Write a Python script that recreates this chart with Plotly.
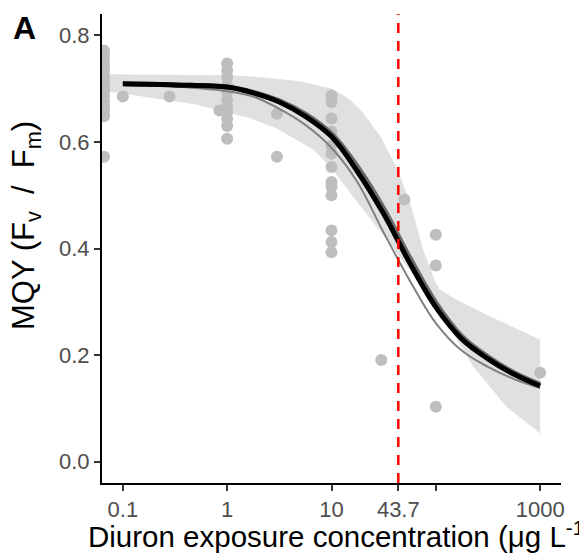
import plotly.graph_objects as go

# ---------------- data ----------------
ctrl_x = 0.066
ctrl_y = [0.771, 0.762, 0.752, 0.743, 0.733, 0.722, 0.712, 0.703, 0.695,
          0.686, 0.676, 0.667, 0.657, 0.648, 0.572]

obs_x = [0.1, 0.28, 0.84,
         1, 1, 1, 1, 1, 1, 1, 1, 1, 1, 1,
         3, 3,
         10, 10, 10, 10, 10, 10, 10, 10, 10, 10, 10, 10, 10,
         30, 50, 100, 100, 100, 1000]
obs_y = [0.685, 0.685, 0.659,
         0.747, 0.734, 0.722, 0.706, 0.694, 0.678, 0.665, 0.656, 0.643, 0.630, 0.606,
         0.653, 0.572,
         0.687, 0.675, 0.644, 0.619, 0.593, 0.578, 0.553, 0.525, 0.516, 0.500, 0.434, 0.412, 0.393,
         0.191, 0.492, 0.426, 0.368, 0.103, 0.167]

# fitted curves, read at quarter-decade steps of the concentration axis
curve_x = [0.1, 0.316, 1, 1.78, 3.16, 5.62, 10, 17.8, 31.6, 56.2, 100, 178, 316, 562, 1000]
fit_y = [0.709, 0.707, 0.703, 0.692, 0.675, 0.648, 0.610, 0.544, 0.465, 0.373,
         0.290, 0.230, 0.193, 0.164, 0.142]
fit_edge_y = [0.709, 0.707, 0.703, 0.693, 0.677, 0.652, 0.615, 0.553, 0.475, 0.383,
              0.298, 0.235, 0.197, 0.167, 0.145]
alt_y = [0.708, 0.704, 0.695, 0.685, 0.662, 0.632, 0.589, 0.524, 0.430, 0.340,
         0.260, 0.208, 0.178, 0.155, 0.138]

upper_x = [0.066, 0.3, 1, 2, 5, 10, 15, 20, 30, 43.7, 58, 75, 100, 109, 158, 330, 1000]
upper_y = [0.727, 0.726, 0.725, 0.722, 0.714, 0.700, 0.680, 0.655, 0.608, 0.545,
           0.480, 0.400, 0.335, 0.323, 0.304, 0.273, 0.229]
lower_x = [0.066, 0.5, 1.64, 3, 6.6, 9.6, 20, 30, 43.7, 60, 75, 100, 136, 227, 476, 1000]
lower_y = [0.696, 0.670, 0.645, 0.625, 0.586, 0.555, 0.473, 0.430, 0.388, 0.352,
           0.325, 0.285, 0.252, 0.179, 0.103, 0.053]

EC50 = 43.7
x_tickvals = [0.1, 1, 10, 43.7, 1000]
x_ticktext = ["0.1", "1", "10", "43.7", "1000"]
x_minor_ticks = [100]
y_tickvals = [0.0, 0.2, 0.4, 0.6, 0.8]
y_ticktext = ["0.0", "0.2", "0.4", "0.6", "0.8"]
y_range = [-0.04, 0.84]
x_range_log = [-1.2, 3.2]

# ---------------- layout geometry ----------------
W, H = 579, 555
L, R, T, B = 102, 18, 14, 72
PW, PH = W - L - R, H - T - B

def pxx(px):
    return (px - L) / PW

def pxy(py):
    return (H - B - py) / PH

FONT = "Liberation Sans, Arial, Helvetica, sans-serif"
NB = "\u00a0"

fig = go.Figure()

fig.add_trace(go.Scatter(
    x=upper_x + lower_x[::-1], y=upper_y + lower_y[::-1],
    mode="lines", fill="toself", fillcolor="#e0e0e0",
    line=dict(width=0, color="#e0e0e0"), hoverinfo="skip", showlegend=False))

fig.add_trace(go.Scatter(
    x=[ctrl_x] * len(ctrl_y) + obs_x, y=ctrl_y + obs_y, mode="markers",
    marker=dict(color="#bebebe", size=12, line=dict(width=0)), showlegend=False))

fig.add_trace(go.Scatter(
    x=curve_x, y=alt_y, mode="lines", line=dict(color="#808080", width=2, shape="spline"),
    showlegend=False))

fig.add_trace(go.Scatter(
    x=curve_x, y=fit_edge_y, mode="lines", line=dict(color="#6a6a6a", width=5, shape="spline"),
    showlegend=False))

fig.add_trace(go.Scatter(
    x=curve_x, y=fit_y, mode="lines", line=dict(color="#000000", width=5, shape="spline"),
    showlegend=False))

fig.add_trace(go.Scatter(
    x=[EC50, EC50], y=y_range, mode="lines",
    line=dict(color="#ff0000", width=2.5, dash="10px,8px"), showlegend=False))

axis_common = dict(showgrid=False, zeroline=False, showline=True, linecolor="black",
                   linewidth=2, ticks="outside", ticklen=6, tickwidth=2, tickcolor="#333333",
                   tickfont=dict(family=FONT, size=22, color="#4d4d4d"))

fig.update_layout(
    width=W, height=H, margin=dict(l=L, r=R, t=T, b=B, autoexpand=False),
    paper_bgcolor="white", plot_bgcolor="white", showlegend=False,
    xaxis=dict(type="log", range=x_range_log, tickmode="array", tickvals=x_tickvals,
               ticktext=x_ticktext,
               minor=dict(tickmode="array", tickvals=x_minor_ticks, ticks="outside",
                          ticklen=6, tickwidth=2, tickcolor="#333333", showgrid=False),
               **axis_common),
    yaxis=dict(range=y_range, tickmode="array", tickvals=y_tickvals,
               ticktext=y_ticktext, **axis_common),
    annotations=[
        dict(text="<b>A</b>", xref="paper", yref="paper", x=pxx(11), y=pxy(8),
             xanchor="left", yanchor="top", showarrow=False,
             font=dict(family=FONT, size=32, color="black")),
        dict(text="MQY (F<sub>v</sub>" + NB * 2 + "/" + NB * 2 + "F<sub>m</sub>)",
             xref="paper", yref="paper",
             x=pxx(26), y=pxy(226), xanchor="center", yanchor="middle", textangle=-90,
             showarrow=False, font=dict(family=FONT, size=31, color="black")),
        dict(text="Diuron exposure concentration (μg L<sup>-1</sup>)", xref="paper",
             yref="paper", x=pxx(86), y=pxy(514), xanchor="left", yanchor="top",
             showarrow=False, font=dict(family=FONT, size=29.5, color="black")),
    ],
)

fig.write_html("out.html")
